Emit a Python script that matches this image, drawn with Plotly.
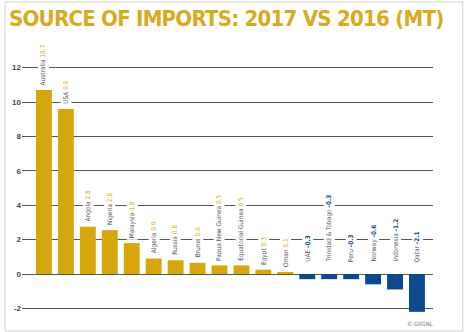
import plotly.graph_objects as go

countries = ["Australia", "USA", "Angola", "Nigeria", "Malaysia", "Algeria", "Russia", "Brunei",
             "Papua New Guinea", "Equatorial Guinea", "Egypt", "Oman", "UAE", "Trinidad & Tobago",
             "Peru", "Norway", "Indonesia", "Qatar"]
values = [10.7, 9.6, 2.8, 2.6, 1.8, 0.9, 0.8, 0.6, 0.5, 0.5, 0.3, 0.1, -0.3, -0.3, -0.3, -0.6, -1.2, -2.1]
bar_heights = [10.7, 9.6, 2.75, 2.55, 1.8, 0.9, 0.8, 0.65, 0.5, 0.5, 0.25, 0.1, -0.3, -0.3, -0.3, -0.6, -0.9, -2.2]
tick_vals = [-2, 0, 2, 4, 6, 8, 10, 12]

GOLD = "#D6A70C"
BLUE = "#0B4A8E"
W, H = 469, 332
L, R, T, B = 20, 36, 59, 15
COND = "DejaVu Sans Condensed, Liberation Sans Narrow, Arial"

colors = [GOLD if v >= 0 else BLUE for v in values]
x = list(range(len(countries)))

fig = go.Figure(go.Bar(x=x, y=bar_heights, marker=dict(color=colors, line=dict(width=0)),
                       hoverinfo="skip"))

annotations = []
for i, (c, v) in enumerate(zip(countries, values)):
    if v >= 0:
        txt = f"{c} <span style='color:{GOLD}'>{v:g}</span>"
        ypos, ysh = bar_heights[i], 3
    else:
        txt = f"{c} <b><span style='color:{BLUE}'>{v:g}</span></b>"
        ypos, ysh = 0, 10
    annotations.append(dict(x=i, y=ypos, xref="x", yref="y", text=txt, showarrow=False,
                            textangle=-90, xanchor="center", yanchor="bottom", yshift=ysh,
                            font=dict(size=6.5, color="#555", family=COND),
                            bgcolor="white", borderpad=1))

pw, ph = W - L - R, H - T - B
def px_x(p): return (p - L) / pw
def px_y(p): return (H - B - p) / ph

annotations.append(dict(x=px_x(435), y=px_y(323), xref="paper", yref="paper", text="© GIIGNL",
                        showarrow=False, xanchor="right", yanchor="middle",
                        font=dict(size=6, color="#777", family=COND)))

fig.update_layout(
    width=W, height=H,
    margin=dict(l=L, r=R, t=T, b=B),
    paper_bgcolor="white", plot_bgcolor="white",
    bargap=0.275,
    showlegend=False,
    title=dict(text="<b><span style='letter-spacing:-0.75px'>SOURCE OF IMPORTS: 2017 VS 2016 (MT)</span></b>",
               x=9 / W, xanchor="left", xref="container",
               y=1 - 11 / H, yanchor="top", yref="container",
               font=dict(size=22, color="#D8AA1E", family=COND)),
    xaxis=dict(range=[-1.0, 17.73], showticklabels=False, showgrid=False, zeroline=False,
               showline=False, ticks=""),
    yaxis=dict(range=[-2.5, 12.5], tickvals=tick_vals, ticktext=[str(t) for t in tick_vals],
               showgrid=True, gridcolor="#555555", gridwidth=1,
               zeroline=True, zerolinecolor="#555555", zerolinewidth=1,
               showline=False, ticks="",
               tickfont=dict(size=8, color="#444", family="Liberation Sans, Arial", weight="bold")),
    annotations=annotations,
    shapes=[dict(type="rect", xref="paper", yref="paper",
                 x0=px_x(3), x1=px_x(463), y0=px_y(331), y1=px_y(2),
                 line=dict(color="#d0d0d0", width=1), fillcolor="rgba(0,0,0,0)", layer="below")],
)

fig.write_html("out.html")
